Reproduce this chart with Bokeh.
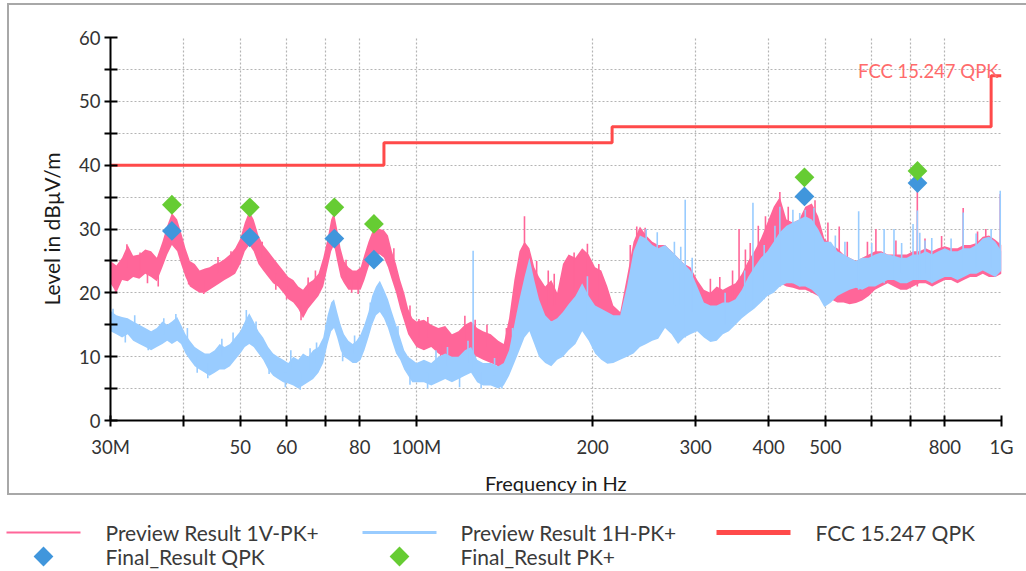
import math
from bokeh.plotting import figure
from bokeh.layouts import column
from bokeh.models import FixedTicker, Range1d, Label
from bokeh.core.properties import value
from bokeh.embed import file_html
from bokeh.resources import INLINE

# ---------------- data ----------------
# scan frequencies (MHz) of the min/max envelope bins
freq_mhz = [30.0, 30.7, 31.4, 32.1, 32.8, 33.6, 34.4, 35.2, 36.0, 36.8,
            37.5, 38.2, 39.0, 39.6, 40.3, 41.0, 41.8, 42.6, 43.5, 44.3,
            45.2, 46.1, 47.0, 48.0, 49.0, 50.0, 50.9, 51.8, 52.7, 53.7,
            54.7, 55.8, 56.9, 58.0, 59.2, 60.4, 61.6, 62.8, 64.0, 65.3,
            66.6, 68.0, 69.3, 70.5, 71.5, 72.3, 73.2, 74.2, 75.2, 76.5,
            77.8, 79.0, 80.3, 81.5, 82.8, 84.0, 85.3, 86.6, 88.0, 89.4,
            90.8, 92.3, 93.8, 95.3, 96.8, 98.4, 100.0,
            103, 106, 109, 112, 115, 118, 121, 124, 127, 130,
            134, 138, 141, 144, 147, 150, 153, 156, 159, 162,
            166, 170, 174, 178,
            182, 187, 192, 197, 202, 207, 212, 217, 223, 229,
            235, 241, 247, 253, 259, 266, 273, 280, 287, 294,
            302, 310, 318, 326, 334, 342, 351, 360, 369, 378,
            388, 398, 408, 418, 429, 440, 451, 462, 474, 486,
            498, 511, 524, 537, 550, 564, 578, 593, 608, 623,
            639, 655, 672, 689, 706, 724, 742, 761, 780, 800,
            820, 841, 862, 884, 906, 929, 952, 976, 1000]

# Preview Result 1V-PK+ : lower / upper envelope (dBuV/m)
v_lo = [21.5, 20.0, 22.0, 21.8, 22.5, 22.2, 23.0, 22.5, 21.8, 24.0,
        26.0, 27.5, 26.5, 24.5, 22.5, 21.0, 20.5, 20.0, 20.0, 20.5,
        21.0, 21.5, 22.0, 22.5, 23.0, 24.5, 26.5, 27.5, 26.5, 24.5,
        23.5, 22.5, 21.5, 21.0, 20.0, 19.0, 18.5, 17.5, 16.0, 17.5,
        18.5, 19.5, 21.0, 24.0, 26.5, 27.5, 25.0, 22.5, 21.5, 20.5,
        20.5, 20.5, 20.5, 22.0, 24.0, 25.5, 26.0, 26.0, 25.5, 24.0,
        22.0, 20.0, 17.5, 15.5, 13.5, 12.5, 11.5,
        11.0, 11.5, 10.5, 10.0, 8.5, 9.0, 10.0, 10.5, 10.0, 9.5,
        9.0, 8.5, 8.0, 10.0, 14.0, 18.0, 20.0, 20.0, 18.0, 17.0,
        16.0, 15.5, 15.0, 16.0,
        12.0, 13.0, 15.0, 14.0, 12.0, 11.0, 10.0, 10.0, 10.5, 11.0,
        11.5, 12.5, 13.0, 13.5, 14.0, 15.0, 14.0, 13.0, 14.0, 14.5,
        15.0, 14.0, 13.0, 13.0, 14.0, 14.5, 15.5, 16.5, 17.0, 18.0,
        19.0, 20.0, 20.5, 21.5, 21.0, 20.8, 20.5, 20.5, 20.0, 19.5,
        19.0, 19.0, 18.5, 18.5, 18.2, 18.4, 18.8, 19.5, 20.5, 21.0,
        21.5, 21.0, 20.5, 20.5, 21.0, 21.5, 21.5, 21.0, 21.5, 22.0,
        22.0, 21.5, 22.0, 22.5, 22.5, 23.0, 22.5, 22.5, 23.0]
v_hi = [25.0, 24.3, 25.5, 27.5, 25.8, 26.0, 26.8, 26.5, 25.5, 28.0,
        30.5, 32.5, 31.5, 29.5, 27.0, 25.0, 24.5, 23.5, 23.8, 24.0,
        24.5, 24.8, 25.3, 26.0, 27.0, 28.5, 31.0, 32.8, 31.5, 29.0,
        27.5, 26.5, 25.5, 24.5, 23.5, 22.5, 22.0, 21.0, 20.5, 21.5,
        22.0, 23.0, 25.5, 28.5, 31.5, 32.5, 30.0, 27.0, 25.0, 24.0,
        23.5, 23.5, 24.0, 26.0, 28.0, 29.5, 30.0, 30.0, 29.8, 29.0,
        26.5, 24.5, 22.0, 20.0, 17.5, 16.0, 15.5,
        15.8, 15.0, 14.5, 14.8, 13.5, 14.0, 15.0, 15.5, 14.5, 14.0,
        13.5, 12.5, 12.0, 16.0, 22.0, 26.5, 28.0, 27.0, 24.0, 22.5,
        21.0, 22.0, 20.0, 24.5,
        26.0, 25.5, 27.0, 26.0, 24.0, 23.5, 21.0, 18.0, 17.0, 22.5,
        28.0, 30.4, 29.0, 28.0, 27.5, 27.5, 26.5, 25.5, 24.5, 24.0,
        22.0, 20.5, 20.0, 21.0, 20.5, 21.0, 21.5, 23.0, 25.0, 26.5,
        28.5, 31.0, 33.5, 35.0, 31.5, 31.0, 31.5, 33.5, 34.0, 32.0,
        28.5, 27.5, 27.0, 26.0, 25.5, 25.0, 25.5, 26.0, 26.5, 26.5,
        26.0, 26.0, 26.0, 26.0, 26.5, 26.5, 27.0, 26.5, 27.0, 27.3,
        27.0, 27.0, 27.5, 27.5, 27.8, 28.8, 29.0, 28.3, 27.5]

# Preview Result 1H-PK+ : lower / upper envelope (dBuV/m)
h_lo = [14.0, 13.5, 13.0, 13.5, 12.5, 12.0, 11.5, 11.0, 11.5, 12.0,
        12.5, 12.0, 12.5, 12.0, 10.5, 9.5, 8.5, 8.0, 7.5, 7.0,
        7.5, 8.0, 8.0, 8.5, 9.5, 10.5, 11.5, 12.0, 11.5, 10.5,
        9.5, 8.0, 7.0, 6.5, 6.0, 5.8, 5.5, 5.0, 5.5, 6.0,
        6.5, 7.5, 9.0, 12.0, 14.0, 14.5, 13.0, 11.0, 10.0, 9.5,
        9.0, 9.0, 9.5, 11.0, 13.0, 15.0, 16.5, 17.0, 16.0, 14.5,
        12.5, 10.5, 9.5, 8.0, 7.0, 6.0, 6.0,
        6.0, 5.5, 6.0, 6.5, 6.0, 6.5, 7.0, 7.5, 6.0, 5.5,
        5.5, 5.0, 5.5, 7.0, 9.0, 11.0, 13.0, 14.0, 12.0, 10.0,
        9.0, 8.5, 9.5, 10.0,
        11.0, 12.0, 14.0, 12.5, 10.5, 9.5, 8.9, 9.0, 9.5, 10.0,
        10.5, 11.5, 12.0, 12.5, 12.8, 14.5, 13.5, 12.0, 13.0, 13.5,
        14.0, 13.0, 12.3, 12.5, 13.5, 14.0, 15.0, 16.0, 16.8, 17.5,
        18.5, 19.5, 20.0, 21.0, 21.5, 21.5, 21.0, 21.0, 20.5, 19.5,
        17.8, 18.5, 19.5, 20.0, 20.5, 20.8, 20.5, 21.0, 21.0, 21.5,
        22.0, 22.0, 21.5, 21.5, 22.0, 22.0, 22.0, 21.5, 22.0, 22.5,
        22.5, 22.0, 22.5, 23.0, 23.0, 23.5, 23.0, 22.5, 23.5]
h_hi = [17.2, 16.5, 16.2, 16.0, 15.5, 15.0, 14.5, 14.0, 14.5, 15.5,
        15.0, 15.5, 16.2, 15.0, 13.5, 12.5, 11.5, 11.0, 10.5, 10.5,
        11.0, 12.0, 11.5, 12.0, 13.0, 14.0, 15.5, 16.8, 15.5, 14.0,
        13.0, 11.5, 10.5, 10.0, 9.5, 9.0, 10.0, 9.5, 10.5, 10.0,
        11.0, 11.5, 13.0, 16.5, 18.5, 19.0, 17.0, 15.0, 13.5, 12.5,
        12.0, 12.5, 13.5, 15.0, 17.0, 19.5, 21.0, 21.9, 20.5, 19.0,
        17.0, 15.0, 13.0, 11.0, 10.0, 9.5, 9.0,
        9.5, 9.0, 10.0, 10.5, 10.0, 10.0, 11.0, 11.5, 9.5, 9.0,
        9.0, 8.5, 9.0, 11.0, 15.0, 19.0, 22.5, 25.5, 22.0, 19.0,
        16.5, 15.5, 16.0, 17.0,
        18.2, 19.5, 21.5, 19.5, 18.0, 17.5, 17.0, 16.5, 16.5, 21.0,
        26.5, 29.0, 28.5, 27.5, 27.0, 27.5, 26.5, 25.5, 24.5, 23.5,
        21.0, 18.5, 18.0, 18.0, 18.5, 18.5, 19.0, 20.5, 22.5, 24.0,
        25.5, 26.5, 28.0, 29.5, 30.5, 31.0, 31.5, 32.0, 31.5, 30.0,
        28.0, 28.0, 26.5, 26.0, 25.5, 25.0, 25.5, 25.5, 26.0, 26.3,
        26.0, 25.8, 25.5, 25.5, 26.0, 26.0, 26.5, 26.0, 26.5, 27.0,
        26.5, 26.5, 27.0, 27.0, 27.5, 28.5, 28.8, 28.0, 26.5]

# single-frequency excursions outside the envelope (MHz, from, to in dBuV/m)
v_exc_f = [30.6, 32.0, 33.7, 34.7, 36.2, 39.7, 40.8, 43.3, 45.8, 48.2,
           54.5, 57.5, 60.0, 63.5, 65.3, 67.2, 75.8, 77.5, 79.5, 91.5,
           97.5, 101, 104.6, 110, 114.6, 121, 126, 132, 138, 142.5,
           153, 160.5, 168, 172, 186, 196, 205, 232, 238, 246,
           318, 330, 347, 356, 365, 372, 384, 395, 418, 432,
           480, 505, 528, 545, 590, 610, 660, 718, 740, 790,
           860, 910, 940, 995]
v_exc_from = [22.0, 24.0, 23.5, 23.5, 23.5, 26.0, 23.0, 22.0, 23.0, 24.0,
              25.5, 23.0, 21.0, 18.0, 19.5, 20.0, 22.0, 22.0, 22.0, 23.0,
              15.0, 13.0, 13.0, 12.0, 11.0, 12.5, 12.5, 11.5, 10.5, 10.5,
              20.0, 20.0, 18.0, 18.0, 20.0, 20.0, 17.0, 20.0, 22.0, 22.0,
              16.0, 16.0, 17.0, 16.0, 18.0, 18.0, 20.0, 21.0, 21.0, 24.0,
              24.0, 22.0, 19.0, 21.0, 21.0, 21.0, 22.0, 21.0, 22.0, 23.0,
              22.0, 24.0, 24.0, 23.0]
v_exc_to = [19.9, 27.6, 26.3, 21.5, 21.0, 28.0, 21.3, 19.8, 25.6, 26.5,
            28.0, 20.5, 19.0, 15.7, 22.4, 23.5, 25.2, 20.0, 19.8, 27.0,
            18.0, 15.9, 16.2, 9.3, 8.2, 16.4, 15.8, 15.0, 8.2, 14.5,
            32.0, 25.0, 23.5, 23.0, 26.3, 27.7, 24.5, 27.5, 30.4, 30.2,
            22.2, 22.5, 23.5, 30.0, 26.8, 27.8, 30.5, 32.0, 35.8, 33.5,
            34.5, 31.0, 30.4, 28.0, 28.0, 30.0, 28.2, 37.2, 28.5, 28.9,
            33.3, 29.6, 30.0, 35.5]

h_exc_f = [30.3, 31.8, 33.0, 34.8, 37.0, 38.8, 40.6, 42.2, 44.0, 46.5,
           48.6, 51.2, 53.2, 56.0, 59.7, 61.0, 63.3, 65.8, 67.5, 70.0,
           74.8, 78.4, 83.4, 87.3, 93.0, 97.5, 104.5, 108, 113, 118.5,
           122.5, 125, 129, 136, 140, 146, 149,
           196, 247, 258, 276, 283, 288, 296, 337, 364, 376, 393,
           410, 418, 440, 452, 462, 478, 520, 540, 570, 600,
           630, 655, 675, 706, 718, 725, 740, 760, 820, 860,
           905, 960, 995]
h_exc_from = [15.0, 14.5, 14.0, 13.0, 13.5, 14.0, 12.0, 10.0, 9.0, 10.0,
              11.0, 14.0, 12.5, 10.0, 7.5, 8.0, 7.5, 8.0, 9.0, 12.0,
              12.0, 10.5, 16.0, 18.5, 12.0, 8.0, 7.5, 8.0, 8.5, 8.0,
              9.0, 7.5, 7.5, 7.0, 7.0, 10.0, 12.0,
              15.0, 20.0, 20.0, 18.0, 18.0, 13.0, 17.0, 15.0, 17.0, 17.5, 19.0,
              21.0, 21.0, 21.5, 21.0, 24.0, 23.0, 22.0, 22.0, 20.5, 22.0,
              21.5, 22.0, 23.0, 22.0, 22.0, 22.0, 23.0, 21.5, 23.0, 22.5,
              24.0, 24.0, 23.5]
h_exc_to = [17.5, 12.2, 16.5, 11.0, 16.0, 16.7, 14.5, 7.5, 6.6, 12.8,
            13.8, 17.3, 15.5, 7.3, 5.2, 11.0, 4.8, 11.3, 12.2, 15.0,
            9.3, 13.3, 18.5, 20.6, 14.8, 5.6, 5.0, 11.0, 11.5, 5.2,
            12.5, 26.6, 5.0, 9.8, 5.0, 14.5, 17.0,
            22.6, 30.0, 29.5, 28.0, 27.2, 34.6, 25.5, 20.0, 23.5, 34.1, 27.5,
            30.5, 33.5, 33.0, 32.5, 33.0, 33.3, 29.0, 28.0, 32.8, 27.8,
            30.0, 30.0, 27.8, 30.8, 32.9, 29.4, 28.2, 28.6, 28.5, 32.6,
            29.3, 30.0, 36.0]

# final measurements
final_f = [38.2, 51.9, 72.4, 84.6, 460.5, 718.5]
final_qpk = [29.7, 28.7, 28.5, 25.2, 35.1, 37.2]
final_pk = [33.8, 33.4, 33.4, 30.8, 38.1, 39.1]

# FCC 15.247 quasi-peak limit (step edges in MHz, level in dBuV/m)
limit_f = [30, 88, 216, 960, 1000]
limit_l = [40, 43.5, 46, 54, 54]
limit_name = "FCC 15.247 QPK"

x_ticks = [30, 40, 50, 60, 70, 80, 100, 200, 300, 400, 500, 600, 700, 800, 1000]
x_tick_labels = ["30M", "", "50", "60", "", "80", "100M", "200", "300", "400", "500", "", "", "800", "1G"]
y_ticks = [0, 10, 20, 30, 40, 50, 60]
y_minor = [5, 15, 25, 35, 45, 55]

legend_row1 = ["Preview Result 1V-PK+", "Preview Result 1H-PK+", limit_name]
legend_row2 = ["Final_Result QPK", "Final_Result PK+"]

# ---------------- style ----------------
PINK = "#ff6699"
LIGHTBLUE = "#99ccff"
RED = "#ff4a4a"
BLUE = "#4096dc"
GREEN = "#66cc33"
FONT = "Lato"

# outer panel: 2px grey frame (border-box, so size includes the border)
p = figure(width=1019, height=492, x_axis_type="log",
           x_range=Range1d(30, 1000), y_range=Range1d(0, 60),
           output_backend="svg", toolbar_location=None,
           min_border_left=101, min_border_right=27, min_border_top=32, min_border_bottom=73,
           outline_line_color=None, frame_align=False,
           styles={"border": "2px solid #a8a8a8", "border-right": "none"})
p.margin = (3, 0, 0, 7)

# traces
p.varea(x=freq_mhz, y1=v_lo, y2=v_hi, fill_color=PINK)
p.segment(x0=v_exc_f, y0=v_exc_from, x1=v_exc_f, y1=v_exc_to, line_color=PINK, line_width=1.6)
p.varea(x=freq_mhz, y1=h_lo, y2=h_hi, fill_color=LIGHTBLUE)
p.segment(x0=h_exc_f, y0=h_exc_from, x1=h_exc_f, y1=h_exc_to, line_color=LIGHTBLUE, line_width=1.6)

# limit
p.step(x=limit_f, y=limit_l, mode="after", line_color=RED, line_width=3)
p.add_layout(Label(x=limit_f[-1], y=limit_l[-1], text=limit_name, text_align="right",
                   text_baseline="alphabetic", x_offset=-3, y_offset=5,
                   text_font=FONT, text_font_size="18.5px", text_color="#ff6b6b"))

# final results
p.scatter(final_f, final_qpk, marker="square", angle=math.pi / 4, size=14,
          fill_color=BLUE, line_color=None)
p.scatter(final_f, final_pk, marker="square", angle=math.pi / 4, size=14,
          fill_color=GREEN, line_color=None)

# axes
p.xaxis.ticker = FixedTicker(ticks=x_ticks, minor_ticks=[])
p.xaxis.major_label_overrides = dict(zip(x_ticks, x_tick_labels))
p.yaxis.ticker = FixedTicker(ticks=y_ticks, minor_ticks=y_minor)
p.xaxis.axis_label = "Frequency in Hz"
p.yaxis.axis_label = "Level in dB\u00b5V/m"
for ax in (p.xaxis, p.yaxis):
    ax.axis_line_color = "black"
    ax.axis_line_width = 2
    ax.major_tick_line_color = "black"
    ax.major_tick_line_width = 2
    ax.minor_tick_line_color = "black"
    ax.minor_tick_line_width = 2
    ax.major_label_text_font = FONT
    ax.major_label_text_font_size = "18.5px"
    ax.major_label_text_color = "#333333"
    ax.axis_label_text_font = FONT
    ax.axis_label_text_font_size = "20px"
    ax.axis_label_text_font_style = "normal"
    ax.axis_label_text_color = "#1a1a1a"
p.yaxis.axis_label_text_font_size = "21px"
p.xaxis.major_tick_in = 5
p.xaxis.major_tick_out = 6
p.xaxis.major_label_standoff = 9
p.xaxis.axis_label_standoff = 10
p.yaxis.major_tick_in = 7
p.yaxis.major_tick_out = 6
p.yaxis.minor_tick_in = 7
p.yaxis.minor_tick_out = 6
p.yaxis.major_label_standoff = 4
p.yaxis.axis_label_standoff = 12

p.grid.grid_line_color = "#b4b4b4"
p.grid.grid_line_dash = "2 2"
p.grid.grid_line_width = 1.2
p.ygrid.minor_grid_line_color = "#b4b4b4"
p.ygrid.minor_grid_line_dash = "2 2"
p.ygrid.minor_grid_line_width = 1.2

# ---------------- legend strip ----------------
# frame fills the whole strip, one data unit per page pixel
leg = figure(width=1026, height=76, x_range=Range1d(0, 1026), y_range=Range1d(76, 0),
             output_backend="svg", toolbar_location=None, min_border=0,
             outline_line_color=None, frame_align=False)
leg.axis.visible = False
leg.grid.visible = False

row1_y, row2_y = 37, 61
key_x0 = [6, 362, 716]
key_len = 74
text_x = [105, 460, 815]
leg.segment(x0=key_x0, y0=[row1_y] * 3, x1=[k + key_len for k in key_x0], y1=[row1_y] * 3,
            line_color=[PINK, LIGHTBLUE, RED], line_width=[2, 3, 5])
leg.scatter(x=[k + key_len / 2 for k in key_x0[:2]], y=[row2_y] * 2, marker="square",
            angle=math.pi / 4, size=14, fill_color=[BLUE, GREEN], line_color=None)
leg.text(x=text_x, y=[row1_y] * 3, text=legend_row1, text_baseline="middle",
         text_font=value(FONT), text_font_size="21px", text_color="#3a3a3a")
leg.text(x=text_x[:2], y=[row2_y] * 2, text=legend_row2, text_baseline="middle",
         text_font=value(FONT), text_font_size="21px", text_color="#3a3a3a")

layout = column(p, leg)
open("out.html", "w").write(file_html(layout, INLINE))
